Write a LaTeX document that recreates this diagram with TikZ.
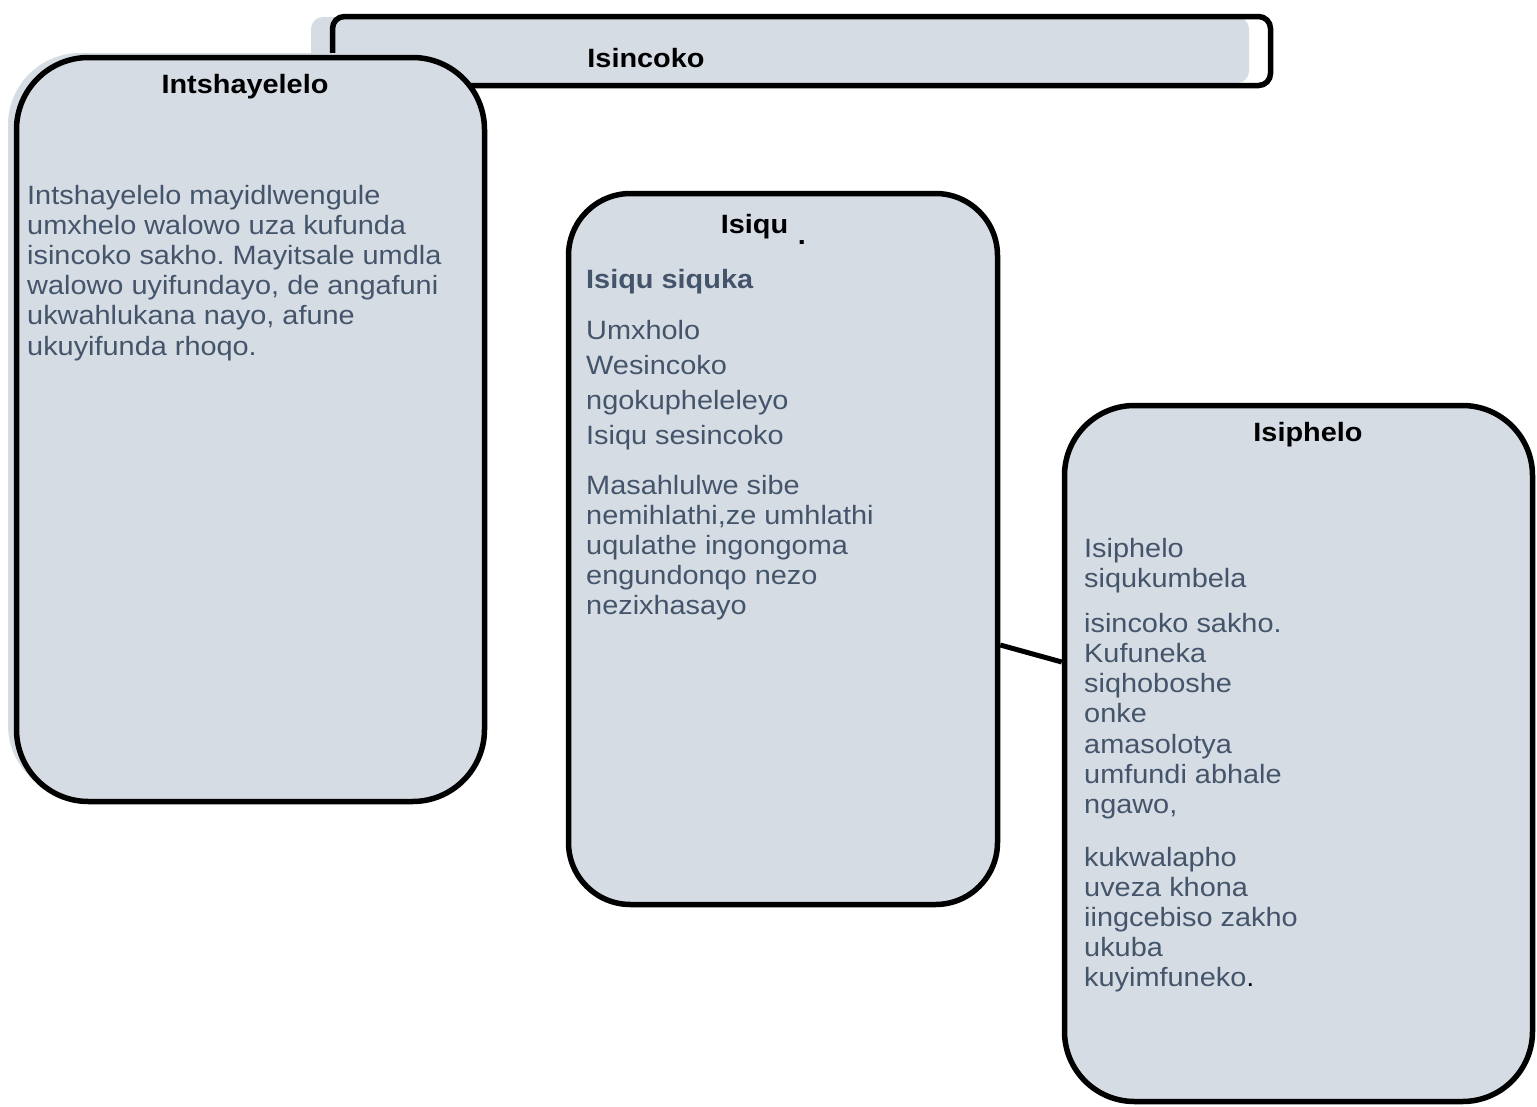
\documentclass[tikz,border=0pt]{standalone}
\usepackage{fontspec}
\setmainfont{Liberation Sans}[FakeStretch=1.09]
\frenchspacing
\definecolor{boxfill}{HTML}{D5DCE4}
\definecolor{txt}{HTML}{44546A}
\tikzset{
  panel/.style={draw=black, line width=5.5pt, fill=boxfill, rounded corners=#1, inner sep=0pt},
  shadowfill/.style={fill=boxfill, rounded corners=#1, inner sep=0pt},
  titletext/.style={font=\fontsize{26.5}{30}\selectfont\bfseries, text=black, anchor=base, inner sep=0pt},
  bodynode/.style={anchor=base west, inner sep=0pt, text=txt},
  link/.style={draw=black, line width=5pt},
}
\newcommand{\bodytext}[2]{\parbox[t]{600pt}{\fontsize{26.5}{#1}\selectfont\raggedright #2}}
\begin{document}
\begin{tikzpicture}[x=1pt,y=-1pt]
\useasboundingbox (0,0) rectangle (1537,1106);
\fill[white] (0,0) rectangle (1537,1106);

% top box
\node[shadowfill=12pt, minimum width=938pt, minimum height=66pt] (topbg) at (780,50) {};
\node[draw=black, line width=5.5pt, rounded corners=12pt, minimum width=938pt, minimum height=69pt, inner sep=0pt] (topbox) at (801.5,51) {};
\node[titletext] (toptitle) at (646,67) {Isincoko};

% left box
\node[shadowfill=72pt, minimum width=468pt, minimum height=744pt] (introbg) at (242,425) {};
\node[panel=72pt, minimum width=468pt, minimum height=744pt] (intro) at (250.5,429.5) {};
\node[titletext] (introtitle) at (245,93) {Intshayelelo};
\node[bodynode] (introtext) at (27,204) {\bodytext{30.2}{Intshayelelo mayidlwengule\\umxhelo walowo uza kufunda\\isincoko sakho. Mayitsale umdla\\walowo uyifundayo, de angafuni\\ukwahlukana nayo, afune\\ukuyifunda rhoqo.}};

% middle box
\node[panel=62pt, minimum width=429pt, minimum height=711pt] (isiqu) at (783,549) {};
\node[titletext] (isiqutitle) at (754.5,233) {Isiqu};
\node[titletext] (isiqudot) at (802,244) {.};
\node[bodynode, font=\fontsize{26.5}{30}\selectfont\bfseries] (isiqusub) at (586,288) {Isiqu siquka};
\node[bodynode] (isiqua) at (586,339) {\bodytext{35}{Umxholo\\Wesincoko\\ngokupheleleyo\\Isiqu sesincoko}};
\node[bodynode] (isiqub) at (586,494) {\bodytext{30}{Masahlulwe sibe\\nemihlathi,ze umhlathi\\uqulathe ingongoma\\engundonqo nezo\\nezixhasayo}};

% right box
\node[panel=70pt, minimum width=468pt, minimum height=696pt] (outro) at (1298.5,753.5) {};
\node[titletext] (outrotitle) at (1308,441) {Isiphelo};
\node[bodynode] (outroa) at (1084,557) {\bodytext{30}{Isiphelo\\siqukumbela}};
\node[bodynode] (outrob) at (1084,632) {\bodytext{30.3}{isincoko sakho.\\Kufuneka\\siqhoboshe\\onke\\amasolotya\\umfundi abhale\\ngawo,}};
\node[bodynode] (outroc) at (1084,866) {\bodytext{30}{kukwalapho\\uveza khona\\iingcebiso zakho\\ukuba\\kuyimfuneko{\color{black}.}}};

% connector
\draw[link] ([yshift=-96pt]isiqu.east) -- ([yshift=91.5pt]outro.west);
\end{tikzpicture}
\end{document}
